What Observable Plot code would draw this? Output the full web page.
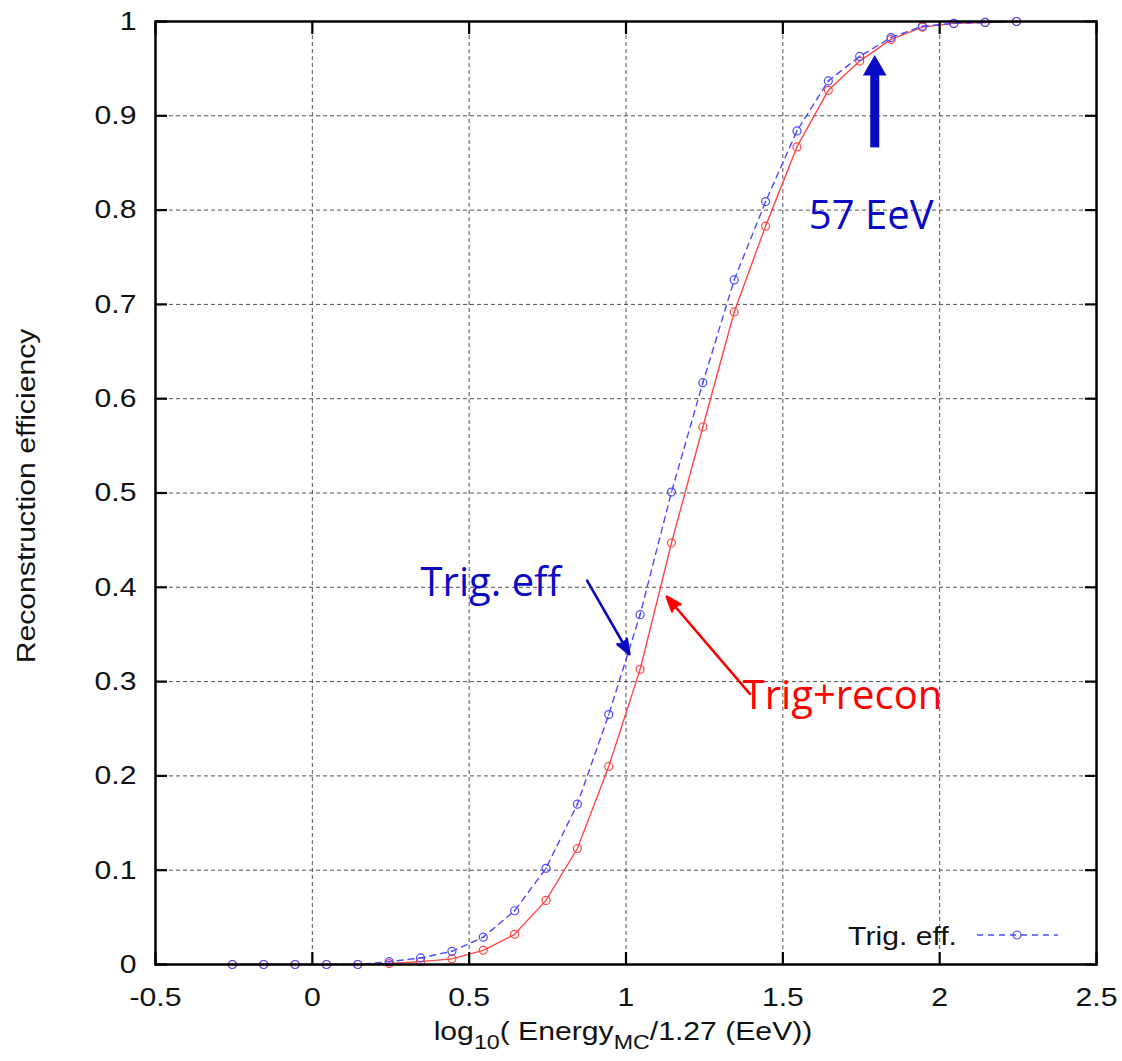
<!DOCTYPE html>
<html><head><meta charset="utf-8">
<script src="https://cdn.jsdelivr.net/npm/d3@7"></script>
<script src="https://cdn.jsdelivr.net/npm/@observablehq/plot@0.6"></script>
<style>body{margin:0;background:#fff;}</style>
</head><body><div id="chart"></div>
<script>
// ---- data ----
const energy = [-0.255,-0.155,-0.055,0.045,0.145,0.245,0.345,0.445,0.545,0.645,0.745,0.845,0.945,1.045,1.145,1.245,1.345,1.445,1.545,1.645,1.745,1.845,1.945,2.045,2.145,2.245];
const trigEff   = [0,0,0,0,0,0.003,0.007,0.014,0.029,0.057,0.102,0.170,0.265,0.371,0.501,0.617,0.726,0.809,0.884,0.937,0.963,0.983,0.995,0.998,0.999,1.0];
const trigRecon = [0,0,0,0,0,0.001,0.003,0.006,0.015,0.032,0.068,0.123,0.210,0.313,0.447,0.570,0.692,0.783,0.867,0.927,0.958,0.981,0.994,0.998,0.999,1.0];
const xTicks = [-0.5,0,0.5,1,1.5,2,2.5];
const yTicks = [0,0.1,0.2,0.3,0.4,0.5,0.6,0.7,0.8,0.9,1];
const xTitle = ["log", "10", "( Energy", "MC", "/1.27 (EeV))"];
const yTitle = "Reconstruction efficiency";
const legendLabel = "Trig. eff.";
// annotations
const noteText  = ["Trig. eff", "Trig+recon", "57 EeV"];
const noteX     = [0.345, 1.372, 1.583];
const noteY     = [0.391, 0.271, 0.780];
const noteColor = ["#0a0ac4", "#ff0000", "#0a0ac4"];
const arrowX1 = [0.876, 1.395];
const arrowY1 = [0.407, 0.287];
const arrowX2 = [1.011, 1.130];
const arrowY2 = [0.329, 0.390];
const arrowColor = ["#0a0ac4", "#ff0000"];
const bigArrowX = [1.793];
const bigArrowY1 = [0.8665];
const bigArrowY2 = [0.944];
const bigArrowHeadY = [0.950];

const blue = energy.map((x, i) => ({x, y: trigEff[i]}));
const red  = energy.map((x, i) => ({x, y: trigRecon[i]}));
const notes = noteText.map((t, i) => ({t, x: noteX[i], y: noteY[i], c: noteColor[i]}));
const arrows = arrowX1.map((x1, i) => ({x1, y1: arrowY1[i], x2: arrowX2[i], y2: arrowY2[i], c: arrowColor[i]}));
const bigArrow = bigArrowX.map((x, i) => ({x, y1: bigArrowY1[i], y2: bigArrowY2[i], yh: bigArrowHeadY[i]}));

const BLUE = "#4a4aff", RED = "#ff4646";
const gridStyle = {stroke: "#333", strokeOpacity: 0.85, strokeDasharray: "4,3", strokeWidth: 1};

const plot = Plot.plot({
  width: 1122, height: 1061,
  marginLeft: 155, marginRight: 26, marginTop: 21, marginBottom: 97,
  x: {domain: [-0.5, 2.5], label: null},
  y: {domain: [0, 1], label: null},
  style: {fontFamily: "'Liberation Sans', Arial, sans-serif", fontSize: "26px", color: "#111", background: "#fff"},
  marks: [
    Plot.gridX(xTicks, gridStyle),
    Plot.gridY(yTicks, gridStyle),
    Plot.line(red, {x: "x", y: "y", stroke: RED, strokeWidth: 1.4}),
    Plot.dot(red, {x: "x", y: "y", r: 4, stroke: RED, strokeWidth: 1.2, fill: "none"}),
    Plot.line(blue, {x: "x", y: "y", stroke: BLUE, strokeWidth: 1.4, strokeDasharray: "6,5"}),
    Plot.dot(blue, {x: "x", y: "y", r: 4, stroke: BLUE, strokeWidth: 1.2, fill: "none"}),
    Plot.dot(blue, {x: "x", y: "y", r: 0.9, fill: BLUE}),
    // inward ticks on four sides
    Plot.axisX(xTicks, {anchor: "bottom", tickSize: 12, dy: -12, fill: "none", stroke: "#000", strokeWidth: 2.2, label: null}),
    Plot.axisX(xTicks, {anchor: "top", tickSize: 12, dy: 12, fill: "none", stroke: "#000", strokeWidth: 2.2, label: null}),
    Plot.axisY(yTicks, {anchor: "left", tickSize: 12, dx: 12, fill: "none", stroke: "#000", strokeWidth: 2.2, label: null}),
    Plot.axisY(yTicks, {anchor: "right", tickSize: 12, dx: -12, fill: "none", stroke: "#000", strokeWidth: 2.2, label: null}),
    // tick labels
    Plot.axisX(xTicks, {anchor: "bottom", tickSize: 0, tickPadding: 23, tickFormat: d => String(d), label: null}),
    Plot.axisY(yTicks, {anchor: "left", tickSize: 0, tickPadding: 19, tickFormat: d => String(d), label: null}),
    Plot.frame({stroke: "#000", strokeWidth: 2.5}),
    // annotations
    Plot.arrow(arrows, {x1: "x1", y1: "y1", x2: "x2", y2: "y2", stroke: "c", fill: "c", strokeWidth: 2.6, headLength: 9, headAngle: 40}),
    Plot.link(bigArrow, {x1: "x", x2: "x", y1: "y1", y2: "y2", stroke: "#0a0ac4", strokeWidth: 9}),
    Plot.dot(bigArrow, {x: "x", y: "yh", symbol: "triangle", r: 8.8, fill: "#0a0ac4", stroke: "none"}),
    Plot.text(notes, {x: "x", y: "y", text: "t", fill: "c", textAnchor: "start", lineAnchor: "bottom",
      fontSize: 40, fontFamily: "'Open Sans', sans-serif"})
  ]
});
document.getElementById("chart").append(plot);

const svg = d3.select(plot);
const STRETCH = 1.16;
// axis titles
const xt = svg.append("text").attr("x", 623).attr("y", 1040).attr("text-anchor", "middle")
  .attr("fill", "#111").style("font-family", "'Liberation Sans', Arial, sans-serif").style("font-size", "26px");
xt.append("tspan").text(xTitle[0]);
xt.append("tspan").attr("dy", 9).style("font-size", "20px").text(xTitle[1]);
xt.append("tspan").attr("dy", -9).text(xTitle[2]);
xt.append("tspan").attr("dy", 9).style("font-size", "20px").text(xTitle[3]);
xt.append("tspan").attr("dy", -9).text(xTitle[4]);
const yt = svg.append("text").attr("transform", "translate(35,496) rotate(-90)").attr("text-anchor", "middle")
  .attr("fill", "#111").style("font-family", "'Liberation Sans', Arial, sans-serif").style("font-size", "26px")
  .text(yTitle);
// legend
const lg = svg.append("g");
lg.append("text").attr("x", 957).attr("y", 945).attr("text-anchor", "end").attr("fill", "#111")
  .style("font-family", "'Liberation Sans', Arial, sans-serif").style("font-size", "26px").text(legendLabel);
lg.append("line").attr("x1", 977).attr("x2", 1058).attr("y1", 935).attr("y2", 935)
  .attr("stroke", BLUE).attr("stroke-width", 1.4).attr("stroke-dasharray", "6,5");
lg.append("circle").attr("cx", 1017).attr("cy", 935).attr("r", 4).attr("fill", "none").attr("stroke", BLUE).attr("stroke-width", 1.2);

// widen Helvetica-like text to match the reference's aspect
const widen = (sel) => sel.each(function() {
  const w = this.getComputedTextLength();
  if (w > 0) { this.setAttribute("textLength", (w * STRETCH).toFixed(1)); this.setAttribute("lengthAdjust", "spacingAndGlyphs"); }
});
widen(svg.selectAll('g[aria-label="x-axis tick label"] text, g[aria-label="y-axis tick label"] text'));
widen(xt); widen(yt); widen(lg.selectAll("text"));
</script>
</body></html>
